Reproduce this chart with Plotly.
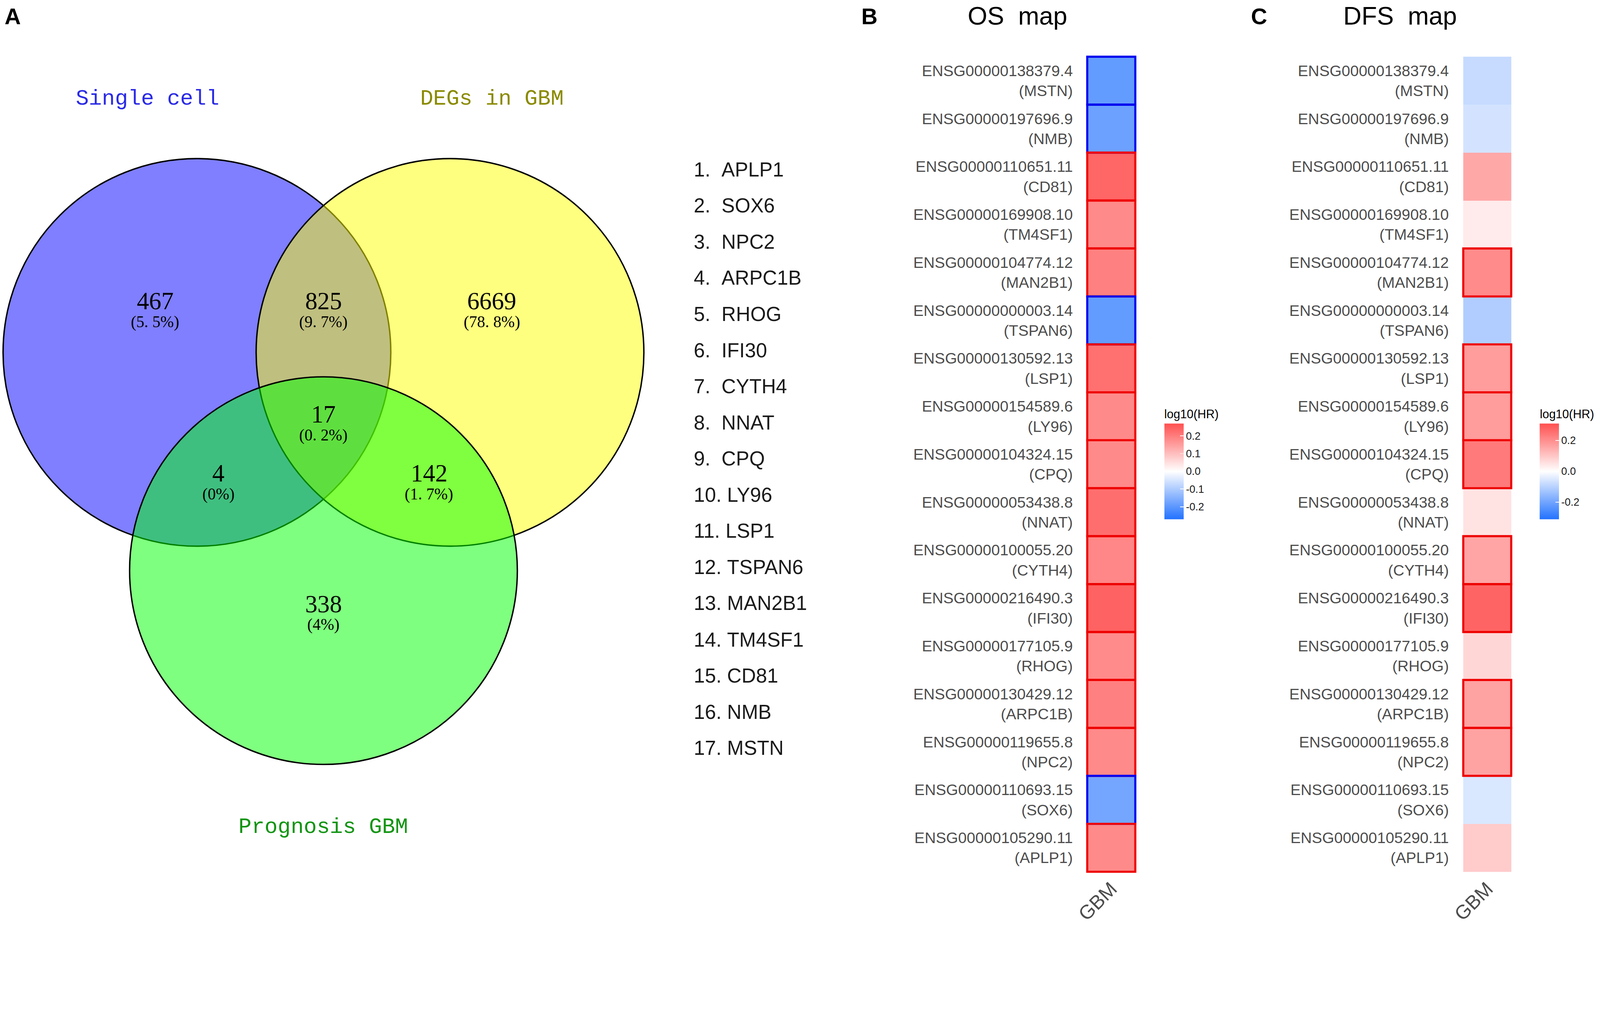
import plotly.graph_objects as go

# ---------------- data ----------------
venn_sets = ["Single cell", "DEGs in GBM", "Prognosis GBM"]
venn_regions = ["Single cell only", "Single cell & DEGs", "DEGs only", "All three",
                "Single cell & Prognosis", "DEGs & Prognosis", "Prognosis only"]
venn_counts = [467, 825, 6669, 17, 4, 142, 338]
venn_pcts = ["(5. 5%)", "(9. 7%)", "(78. 8%)", "(0. 2%)", "(0%)", "(1. 7%)", "(4%)"]

gene_list = ["APLP1", "SOX6", "NPC2", "ARPC1B", "RHOG", "IFI30", "CYTH4", "NNAT", "CPQ",
             "LY96", "LSP1", "TSPAN6", "MAN2B1", "TM4SF1", "CD81", "NMB", "MSTN"]

ens_ids = ["ENSG00000138379.4", "ENSG00000197696.9", "ENSG00000110651.11", "ENSG00000169908.10",
           "ENSG00000104774.12", "ENSG00000000003.14", "ENSG00000130592.13", "ENSG00000154589.6",
           "ENSG00000104324.15", "ENSG00000053438.8", "ENSG00000100055.20", "ENSG00000216490.3",
           "ENSG00000177105.9", "ENSG00000130429.12", "ENSG00000119655.8", "ENSG00000110693.15",
           "ENSG00000105290.11"]
gene_symbols = ["MSTN", "NMB", "CD81", "TM4SF1", "MAN2B1", "TSPAN6", "LSP1", "LY96", "CPQ",
                "NNAT", "CYTH4", "IFI30", "RHOG", "ARPC1B", "NPC2", "SOX6", "APLP1"]
os_log10hr = [-0.19, -0.18, 0.236, 0.18, 0.196, -0.19, 0.22, 0.18, 0.18,
              0.224, 0.185, 0.242, 0.179, 0.196, 0.18, -0.17, 0.18]
os_sig = [True] * 17
dfs_log10hr = [-0.08, -0.062, 0.155, 0.035, 0.205, -0.11, 0.175, 0.175, 0.234,
               0.05, 0.16, 0.275, 0.073, 0.165, 0.165, -0.053, 0.093]
dfs_sig = [False, False, False, False, True, False, True, True, True,
           False, True, True, False, True, True, False, False]
cbar_ticks_os = [-0.2, -0.1, 0.0, 0.1, 0.2]
cbar_ticks_dfs = [-0.2, 0.0, 0.2]

# ---------------- layout helpers ----------------
W, H = 4562, 2653
PW, PH = 1568.0, 912.0   # layout units (scaled to page)


def px(x):
    return x / PW


def py(y):
    return 1 - y / PH


SANS = "Liberation Sans"
SERIF = "Liberation Serif"
MONO = "Liberation Mono"

fig = go.Figure()

# ---------------- Panel A : Venn ----------------
venn_centres = [(193, 345.5), (441, 345.5), (317, 559.5)]
venn_r = 190
venn_fill = ["rgba(0,0,255,0.5)", "rgba(255,255,0,0.5)", "rgba(0,255,0,0.5)"]
venn_label_pos = [(144.5, 97), (482, 97), (317, 811)]
venn_label_col = ["#2a2ae6", "#8a8a00", "#129412"]
region_pos = [(152, 295.5), (317, 295.5), (482, 295.5), (317, 406.5),
              (214, 464.5), (420.5, 464.5), (317, 592.5)]

# invisible anchor trace so the venn axes exist
fig.add_trace(go.Scatter(x=[c[0] for c in region_pos], y=[c[1] for c in region_pos],
                         mode="markers", marker=dict(opacity=0), hoverinfo="skip",
                         showlegend=False, xaxis="x", yaxis="y"))

shapes = []
for (cx, cy), fc in zip(venn_centres, venn_fill):
    shapes.append(dict(type="circle", xref="x", yref="y", x0=cx - venn_r, x1=cx + venn_r,
                       y0=cy - venn_r, y1=cy + venn_r, fillcolor=fc,
                       line=dict(color="black", width=4), layer="above"))

annotations = []
C = dict(xanchor="center", yanchor="middle", showarrow=False)
for name, (lx, ly), col in zip(venn_sets, venn_label_pos, venn_label_col):
    annotations.append(dict(x=lx, y=ly, xref="x", yref="y", text=name.replace(" ", "\u00a0"),
                            font=dict(family=MONO, size=62, color=col), **C))
for cnt, pct, (rx, ry) in zip(venn_counts, venn_pcts, region_pos):
    annotations.append(dict(x=rx, y=ry - 0.5, xref="x", yref="y", text=str(cnt),
                            font=dict(family=SERIF, size=70, color="black"), **C))
    annotations.append(dict(x=rx, y=ry + 20, xref="x", yref="y", text=pct.replace(" ", "\u00a0"),
                            font=dict(family=SERIF, size=46, color="black"), **C))

# numbered gene list
for i, g in enumerate(gene_list):
    num = f"{i + 1}."
    sep = "\u00a0\u00a0" if i + 1 < 10 else "\u00a0"
    annotations.append(dict(x=px(679), y=py(166 + i * 35.45), xref="paper", yref="paper",
                            text=num + sep + g, showarrow=False, xanchor="left",
                            yanchor="middle",
                            font=dict(family=SANS, size=57, color="#1a1a1a")))

# panel letters and titles
for lab, lx in [("A", 12.5), ("B", 852), ("C", 1234)]:
    annotations.append(dict(x=px(lx), y=py(16), xref="paper", yref="paper", text=f"<b>{lab}</b>",
                            font=dict(family=SANS, size=64, color="black"), **C))
for t, tx in [("OS\u00a0\u00a0map", 997), ("DFS\u00a0\u00a0map", 1372)]:
    annotations.append(dict(x=px(tx), y=py(15.5), xref="paper", yref="paper", text=t,
                            font=dict(family=SANS, size=72, color="black"), **C))

# ---------------- Panels B & C : heatmaps ----------------
ylabels = [f"{e}<br>({s})" for e, s in zip(ens_ids, gene_symbols)]
EXT = 0.03
row_h = (854.7 - 55.6) / 17.0
y_top = 55.6 - EXT * row_h
y_bot = 854.7 + EXT * row_h

panels = [
    dict(vals=os_log10hr, sig=os_sig, xa="x2", ya="y2", ca="coloraxis", xl=1065.5, xr=1112.6),
    dict(vals=dfs_log10hr, sig=dfs_sig, xa="x3", ya="y3", ca="coloraxis2", xl=1434.0, xr=1481.0),
]
for p in panels:
    fig.add_trace(go.Heatmap(z=[[v] for v in p["vals"]], x=["GBM"], y=ylabels,
                             coloraxis=p["ca"], xaxis=p["xa"], yaxis=p["ya"],
                             hovertemplate="%{y}<br>log10(HR)=%{z}<extra></extra>"))
    for i, (v, s) in enumerate(zip(p["vals"], p["sig"])):
        if s:
            shapes.append(dict(type="rect", xref=p["xa"], yref=p["ya"], x0=-0.5, x1=0.5,
                               y0=i - 0.5, y1=i + 0.5, fillcolor="rgba(0,0,0,0)",
                               line=dict(color="#ee0000" if v > 0 else "#0000ee", width=6),
                               layer="above"))

colorscale = [[0.0, "#2272ff"], [0.5, "#ffffff"], [1.0, "#ff5050"]]


def cbar(xpos, ticks):
    return dict(x=px(xpos), xanchor="left", y=py(509), yanchor="bottom",
                lenmode="pixels", len=316, thicknessmode="pixels", thickness=55,
                xpad=0, ypad=0, outlinewidth=0,
                tickvals=ticks, ticktext=[f"{t:.1f}" for t in ticks],
                ticks="inside", ticklen=10, tickcolor="white", tickwidth=2,
                tickfont=dict(family=SANS, size=30, color="#1a1a1a"),
                title=dict(text="log10(HR)", side="top",
                           font=dict(family=SANS, size=34, color="black")))


def cell_dom(xl, xr):
    w = xr - xl
    return [px(xl - EXT * w), px(xr + EXT * w)]


layout = dict(
    width=W, height=H, margin=dict(l=0, r=0, t=0, b=0, pad=0, autoexpand=False),
    paper_bgcolor="white", plot_bgcolor="white", showlegend=False,
    xaxis=dict(domain=[0, 0.5], range=[0, PW * 0.5], visible=False, fixedrange=True),
    yaxis=dict(domain=[0, 1], range=[PH, 0], visible=False, fixedrange=True),
    coloraxis=dict(colorscale=colorscale, cmin=-0.27, cmax=0.27,
                   colorbar=cbar(1141, cbar_ticks_os)),
    coloraxis2=dict(colorscale=colorscale, cmin=-0.31, cmax=0.31,
                    colorbar=cbar(1509, cbar_ticks_dfs)),
    shapes=shapes, annotations=annotations,
)

for p, n in zip(panels, ["2", "3"]):
    layout["xaxis" + n] = dict(domain=cell_dom(p["xl"], p["xr"]), anchor="y" + n,
                               range=[-0.5 - EXT, 0.5 + EXT], showgrid=False, zeroline=False,
                               showline=False, ticks="", tickangle=-45, automargin=False,
                               tickfont=dict(family=SANS, size=56, color="#4d4d4d"))
    layout["yaxis" + n] = dict(domain=[py(y_bot), py(y_top)], anchor="x" + n,
                               type="category", categoryorder="array", categoryarray=ylabels,
                               range=[16.5 + EXT, -0.5 - EXT], showgrid=False, zeroline=False,
                               showline=False, ticks="", ticklabelstandoff=36, automargin=False,
                               tickfont=dict(family=SANS, size=44, color="#4d4d4d"))

fig.update_layout(**layout)

# scale the fixed-size figure so that it fits the browser viewport exactly
fit_js = """
(function(){
  var gd = document.getElementById('{plot_id}');
  var html = document.documentElement, body = document.body;
  html.style.margin = '0'; body.style.margin = '0'; html.style.padding = '0'; body.style.padding = '0';
  html.style.overflow = 'hidden'; body.style.overflow = 'hidden';
  function fit(){
    var s = Math.min(window.innerWidth / %d, window.innerHeight / %d);
    gd.style.transformOrigin = '0 0';
    gd.style.transform = 'scale(' + s + ')';
    var wrap = gd.parentElement;
    wrap.style.width = (%d * s) + 'px';
    wrap.style.height = (%d * s) + 'px';
    wrap.style.overflow = 'hidden';
  }
  fit();
  window.addEventListener('resize', fit);
})();
""" % (W, H, W, H)

fig.write_html("out.html", post_script=fit_js, config={"displayModeBar": False})
